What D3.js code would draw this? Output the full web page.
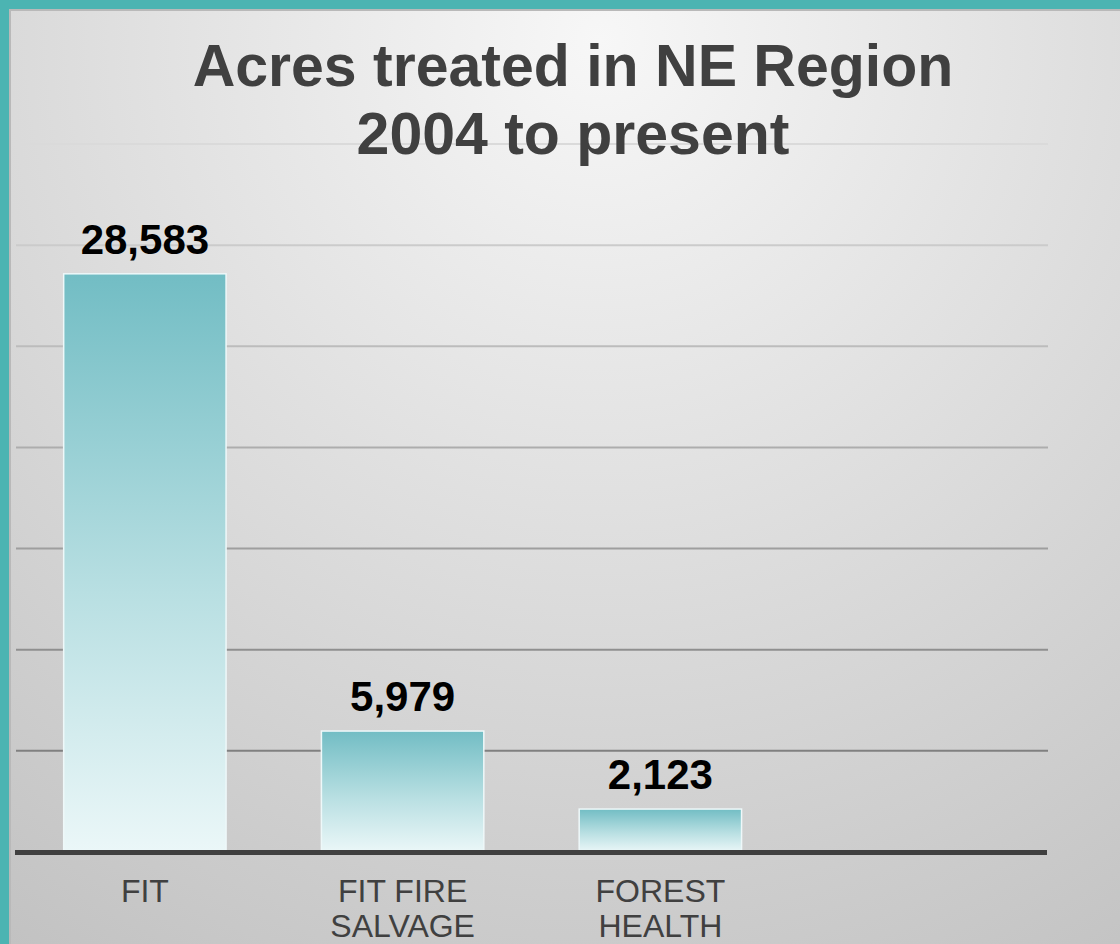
<html>
<head>
<title>Acres treated in NE Region</title>
<script src="https://cdn.jsdelivr.net/npm/d3@7/dist/d3.min.js"></script>
<style>
body { margin: 0; background: #4cb4b2; }
svg { display: block; }
text { font-family: 'Liberation Sans', Arial, sans-serif; }
</style>
</head>
<body>

<svg width="1120" height="944"></svg>

<script>

// chart data
var categories = ["FIT", "FIT FIRE SALVAGE", "FOREST HEALTH", ""];
var categoryLines = [["FIT"], ["FIT FIRE", "SALVAGE"], ["FOREST", "HEALTH"], []];
var acres = [28583, 5979, 2123, null];
var gridTicks = [5000, 10000, 15000, 20000, 25000, 30000, 35000];
var titleLines = ["Acres treated in NE Region", "2004 to present"];

var svg = d3.select("svg");
var defs = svg.append("defs");

// slide background
var bg = defs.append("radialGradient").attr("id", "bg")
	.attr("gradientUnits", "userSpaceOnUse")
	.attr("cx", 600).attr("cy", 40).attr("r", 1080);
bg.append("stop").attr("offset", "0%").attr("stop-color", "#f7f7f7");
bg.append("stop").attr("offset", "100%").attr("stop-color", "#c2c2c2");

var barGrad = defs.append("linearGradient").attr("id", "barGrad")
	.attr("x1", 0).attr("y1", 0).attr("x2", 0).attr("y2", 1);
barGrad.append("stop").attr("offset", "0%").attr("stop-color", "#72bdc4");
barGrad.append("stop").attr("offset", "55%").attr("stop-color", "#b8dfe2");
barGrad.append("stop").attr("offset", "100%").attr("stop-color", "#ebf7f8");

svg.append("rect").attr("x", 9).attr("y", 9).attr("width", 1111).attr("height", 935)
	.attr("fill", "#b9b9b9");
svg.append("rect").attr("x", 11).attr("y", 11).attr("width", 1109).attr("height", 933)
	.attr("fill", "url(#bg)");

var x = d3.scaleBand().domain(categories).range([16, 1047]).paddingInner(0.37).paddingOuter(0.185);
var y = d3.scaleLinear().domain([0, 35000]).range([852, 144]);

var gridColor = d3.scaleLinear().domain([5000, 35000]).range(["#808080", "#dadada"]);

// gridlines
svg.append("g").selectAll("line").data(gridTicks).enter().append("line")
	.attr("x1", 16).attr("x2", 1048)
	.attr("y1", function (d) { return y(d); })
	.attr("y2", function (d) { return y(d); })
	.attr("stroke", function (d) { return gridColor(d); })
	.attr("stroke-width", 2);

// bars
var idx = d3.range(3);
svg.append("g").selectAll("rect").data(idx).enter().append("rect")
	.attr("x", function (i) { return x(categories[i]); })
	.attr("y", function (i) { return y(acres[i]); })
	.attr("width", x.bandwidth())
	.attr("height", function (i) { return y(0) - y(acres[i]); })
	.attr("fill", "url(#barGrad)")
	.attr("stroke", "#eef8f9").attr("stroke-width", 1.5);

// value labels
svg.append("g").selectAll("text").data(idx).enter().append("text")
	.attr("x", function (i) { return x(categories[i]) + x.bandwidth() / 2; })
	.attr("y", function (i) { return y(acres[i]) - 20; })
	.attr("text-anchor", "middle")
	.style("font-size", "42px").style("font-weight", "bold").style("fill", "#000")
	.text(function (i) { return d3.format(",")(acres[i]); });

// baseline
svg.append("line").attr("x1", 15).attr("x2", 1047)
	.attr("y1", y(0) + 0.5).attr("y2", y(0) + 0.5)
	.attr("stroke", "#404040").attr("stroke-width", 5);

// category labels
var cat = svg.append("g").selectAll("text").data(categories).enter().append("text")
	.attr("text-anchor", "middle")
	.style("font-size", "32px").style("fill", "#404040");
cat.each(function (d, i) {
	var t = d3.select(this);
	categoryLines[i].forEach(function (line, j) {
		t.append("tspan")
			.attr("x", x(d) + x.bandwidth() / 2)
			.attr("y", 902 + j * 35)
			.text(line);
	});
});

// title
svg.append("g").selectAll("text").data(titleLines).enter().append("text")
	.attr("x", 573).attr("y", function (d, i) { return 86 + i * 68; })
	.attr("text-anchor", "middle")
	.style("font-size", "59px").style("font-weight", "bold").style("fill", "#404040")
	.text(function (d) { return d; });

</script>
</body>
</html>
